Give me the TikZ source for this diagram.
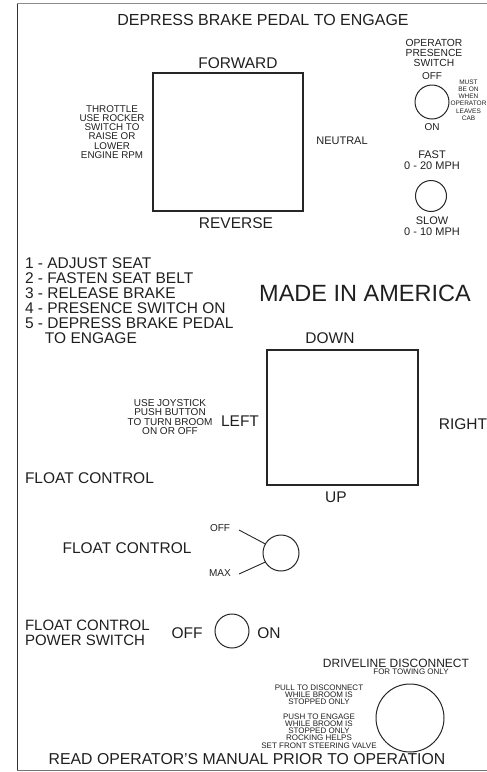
\documentclass[tikz,border=0pt]{standalone}
\usepackage{fontspec}
\setmainfont{Liberation Sans}
\newcommand\fsz[2]{\fontsize{#1}{#2}\selectfont}
\begin{document}
\begin{tikzpicture}[x=1pt,y=-1pt,
  every node/.style={inner sep=0pt, outer sep=0pt, text=black!88},
  big/.style={font=\fsz{15.5}{15}},
  mid/.style={font=\fsz{11}{10.5}, align=center},
  sm/.style={font=\fsz{10}{9.5}, align=center},
  tiny/.style={font=\fsz{8}{7.2}, align=center},
  panel/.style={draw=black!85, line width=1.1pt, minimum width=150pt, minimum height=138pt},
  ring/.style={draw=black!85, line width=1pt, circle},
  frame/.style={draw=black!80, line width=1pt}]
\useasboundingbox (0,0) rectangle (487,772);
% frame
\coordinate (tl) at (17,3);
\coordinate (bl) at (17,770);
\coordinate (tr) at (487,3);
\coordinate (br) at (487,770);
\draw[frame] (tl) -- (bl);
\draw[draw=black!45, line width=0.6pt] (tl) -- (tr);
\draw[draw=black!55, line width=0.7pt] (bl) -- (br);

\node[font=\fsz{16}{16}] (title) at (263,20) {DEPRESS BRAKE PEDAL TO ENGAGE};

% forward/reverse box
\node[panel] (fwdbox) at (228,142) {};
\node[big] (fwd) at (238,63) {FORWARD};
\node[big] (rev) at (236,223) {REVERSE};
\node[sm, font=\fsz{9.8}{9.2}] (throttle) at (112,132) {THROTTLE\\USE ROCKER\\SWITCH TO\\RAISE OR\\LOWER\\ENGINE RPM};
\node[mid] (neutral) at (342,141) {NEUTRAL};

% operator presence switch
\node[sm, font=\fsz{10.3}{10}] (ops) at (434,53) {OPERATOR\\PRESENCE\\SWITCH};
\node[sm] (opoff) at (432,76) {OFF};
\node[ring, minimum size=34pt] (opsw) at (432,102) {};
\node[sm] (opon) at (432,127) {ON};
\node[tiny, font=\fsz{6.5}{7.2}] (must) at (468.5,100) {MUST\\BE ON\\WHEN\\OPERATOR\\LEAVES\\CAB};

% speed switch
\node[mid] (fast) at (432,160) {FAST\\0 - 20 MPH};
\node[ring, minimum size=31pt] (spd) at (431,196) {};
\node[mid] (slow) at (432,226) {SLOW\\0 - 10 MPH};

% instructions
\node[big, anchor=west, align=left] (steps) at (25,300.5) {1 - ADJUST SEAT\\2 - FASTEN SEAT BELT\\3 - RELEASE BRAKE\\4 - PRESENCE SWITCH ON\\5 - DEPRESS BRAKE PEDAL\\\hspace*{20pt}TO ENGAGE};
\node[font=\fsz{23.5}{24}] (made) at (365,293) {MADE IN AMERICA};

% joystick box
\node[panel, minimum width=151pt, minimum height=135pt] (joy) at (342.5,417.5) {};
\node[big] (down) at (330,338) {DOWN};
\node[big] (up) at (336,497) {UP};
\node[big] (left) at (240,421) {LEFT};
\node[big] (right) at (463,424) {RIGHT};
\node[sm] (joytxt) at (170,417) {USE JOYSTICK\\PUSH BUTTON\\TO TURN BROOM\\ON OR OFF};

\node[big, anchor=west] (float1) at (25,478) {FLOAT CONTROL};

% float control knob
\node[big] (float2) at (127,548) {FLOAT CONTROL};
\node[ring, minimum size=36pt] (knob) at (281,553) {};
\node[sm] (koff) at (220,528) {OFF};
\node[sm] (kmax) at (220,573) {MAX};
\coordinate (koffe) at (239,530);
\coordinate (kmaxe) at (239,574);
\draw[line width=0.9pt, black!85] (koffe) -- (knob.150);
\draw[line width=0.9pt, black!85] (kmaxe) -- (knob.210);

% power switch
\node[big, anchor=west, align=left, font=\fsz{15}{14.5}] (pwr) at (25,633) {FLOAT CONTROL\\POWER SWITCH};
\node[big] (poff) at (187,633) {OFF};
\node[ring, minimum size=34pt] (psw) at (232,631) {};
\node[big] (pon) at (269,633) {ON};

% driveline disconnect
\node[font=\fsz{12}{12}] (drv) at (396,663) {DRIVELINE DISCONNECT};
\node[tiny] (tow) at (411,672) {FOR TOWING ONLY};
\node[tiny] (pull) at (319,695) {PULL TO DISCONNECT\\WHILE BROOM IS\\STOPPED ONLY};
\node[tiny] (push) at (319,731) {PUSH TO ENGAGE\\WHILE BROOM IS\\STOPPED ONLY\\ROCKING HELPS\\SET FRONT STEERING VALVE};
\node[ring, minimum size=68pt] (drvsw) at (410,718) {};

\node[font=\fsz{15.8}{16}] (read) at (247,759) {READ OPERATOR'S MANUAL PRIOR TO OPERATION};
\end{tikzpicture}
\end{document}
